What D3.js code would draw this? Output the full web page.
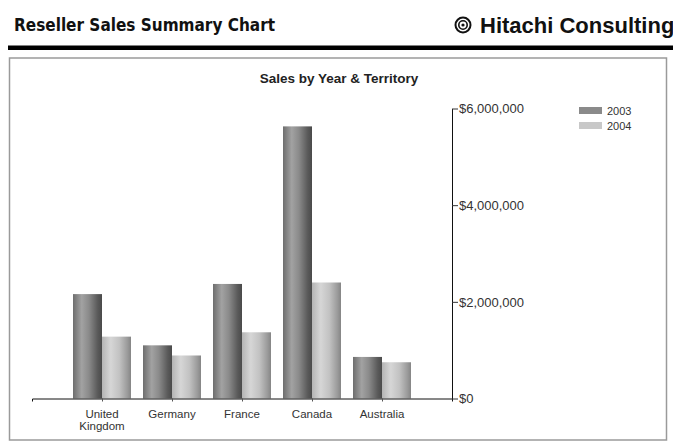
<!DOCTYPE html>
<html>
<head>
<meta charset="utf-8">
<script src="https://cdn.jsdelivr.net/npm/d3@7"></script>
<style>
  html, body { margin: 0; padding: 0; background: #fff; }
  svg { display: block; }
</style>
</head>
<body>
<svg id="chart" width="673" height="445"></svg>
<script>
// Reseller sales by territory, one bar per fiscal year
const territories = ["United Kingdom", "Germany", "France", "Canada", "Australia"];
const years = ["2003", "2004"];
const sales2003 = [2160000, 1100000, 2370000, 5630000, 860000];
const sales2004 = [1280000, 890000, 1370000, 2400000, 750000];
const yTicks = [0, 2000000, 4000000, 6000000];

const svg = d3.select("#chart");
const defs = svg.append("defs");

// Cylinder-like horizontal shading for each series
function shade(id, stops) {
  const g = defs.append("linearGradient").attr("id", id)
    .attr("x1", "0%").attr("x2", "100%").attr("y1", "0%").attr("y2", "0%");
  stops.forEach(([o, c]) => g.append("stop").attr("offset", o).attr("stop-color", c));
}
shade("g2003", [["0%", "#6e6e6e"], ["30%", "#a2a2a2"], ["55%", "#8a8a8a"], ["85%", "#5a5a5a"], ["100%", "#4a4a4a"]]);
shade("g2004", [["0%", "#b4b4b4"], ["30%", "#d6d6d6"], ["60%", "#c2c2c2"], ["88%", "#9a9a9a"], ["100%", "#858585"]]);

// Page header
svg.append("text")
  .attr("x", 14).attr("y", 31)
  .attr("font-family", "'Liberation Sans Narrow', 'DejaVu Sans Condensed', Arial, sans-serif")
  .attr("font-weight", "bold").attr("font-size", 17)
  .attr("textLength", 261).attr("lengthAdjust", "spacingAndGlyphs")
  .attr("fill", "#111")
  .text("Reseller Sales Summary Chart");

// Logo mark
const logo = svg.append("g").attr("transform", "translate(463,25)");
logo.append("circle").attr("r", 7.5).attr("fill", "none").attr("stroke", "#111").attr("stroke-width", 2);
logo.append("circle").attr("r", 4.2).attr("fill", "none").attr("stroke", "#111").attr("stroke-width", 1.6);
logo.append("circle").attr("r", 1.6).attr("fill", "#111");

svg.append("text")
  .attr("x", 480).attr("y", 33)
  .attr("font-family", "Arial, 'Liberation Sans', sans-serif")
  .attr("font-weight", "bold").attr("font-size", 22)
  .attr("fill", "#111")
  .text("Hitachi Consulting");

svg.append("rect").attr("x", 8).attr("y", 45.5).attr("width", 665).attr("height", 4.5).attr("fill", "#000");

// Chart panel
svg.append("rect")
  .attr("x", 9.5).attr("y", 58).attr("width", 657).attr("height", 382)
  .attr("fill", "#fff").attr("stroke", "#9a9a9a").attr("stroke-width", 1.5);

svg.append("text")
  .attr("x", 339).attr("y", 83)
  .attr("text-anchor", "middle")
  .attr("font-family", "Arial, 'Liberation Sans', sans-serif")
  .attr("font-weight", "bold").attr("font-size", 13.5)
  .attr("fill", "#222")
  .text("Sales by Year & Territory");

// Scales
const x = d3.scalePoint().domain(territories).range([32, 452]).padding(1);
const barW = 29;
const xYear = d3.scaleBand().domain(years).range([-barW, barW]).padding(0);
const y = d3.scaleLinear().domain([0, 6000000]).range([398.5, 108.5]);

const rows = territories.map((t, i) => ({ t, vals: [sales2003[i], sales2004[i]] }));

const groups = svg.append("g").selectAll("g").data(rows).join("g")
  .attr("transform", d => `translate(${x(d.t)},0)`);

groups.selectAll("rect").data(d => d.vals.map((v, k) => ({ year: years[k], v })))
  .join("rect")
  .attr("x", d => xYear(d.year))
  .attr("width", xYear.bandwidth())
  .attr("y", d => y(d.v))
  .attr("height", d => y(0) - y(d.v))
  .attr("fill", d => `url(#g${d.year})`);

// X axis
const xAxis = svg.append("g").attr("transform", `translate(0,${y(0)})`)
  .call(d3.axisBottom(x).tickSize(3).tickSizeOuter(3).tickFormat(""));
xAxis.select(".domain").attr("stroke", "#111");
xAxis.selectAll(".tick line").attr("stroke", "#555");

const labels = svg.append("g").selectAll("text").data(territories).join("text")
  .attr("x", d => x(d))
  .attr("y", y(0) + 19)
  .attr("text-anchor", "middle")
  .attr("font-family", "Arial, 'Liberation Sans', sans-serif")
  .attr("font-size", 11.5)
  .attr("fill", "#333");
labels.each(function (d) {
  const words = d === "United Kingdom" ? ["United", "Kingdom"] : [d];
  d3.select(this).selectAll("tspan").data(words).join("tspan")
    .attr("x", x(d)).attr("dy", (w, i) => i ? 12 : 0).text(w => w);
});

// Y axis on the right side of the plot
const yAxis = svg.append("g").attr("transform", `translate(452,0)`)
  .call(d3.axisRight(y).tickValues(yTicks).tickSize(6).tickSizeOuter(0)
    .tickFormat(d => "$" + d3.format(",")(d)));
yAxis.select(".domain").attr("stroke", "#111");
yAxis.selectAll(".tick line").attr("stroke", "#333");
yAxis.selectAll(".tick text")
  .attr("x", 7)
  .attr("font-family", "Arial, 'Liberation Sans', sans-serif")
  .attr("font-size", 13)
  .attr("fill", "#333");

// Legend
const legend = svg.append("g").attr("transform", "translate(579,107)");
const li = legend.selectAll("g").data(years).join("g")
  .attr("transform", (d, i) => `translate(0,${i * 15})`);
li.append("rect").attr("width", 23).attr("height", 7)
  .attr("fill", d => d === "2003" ? "#8a8a8a" : "#c8c8c8");
li.append("text").attr("x", 28).attr("y", 7.5)
  .attr("font-family", "Arial, 'Liberation Sans', sans-serif")
  .attr("font-size", 11).attr("fill", "#333")
  .text(d => d);
</script>
</body>
</html>
